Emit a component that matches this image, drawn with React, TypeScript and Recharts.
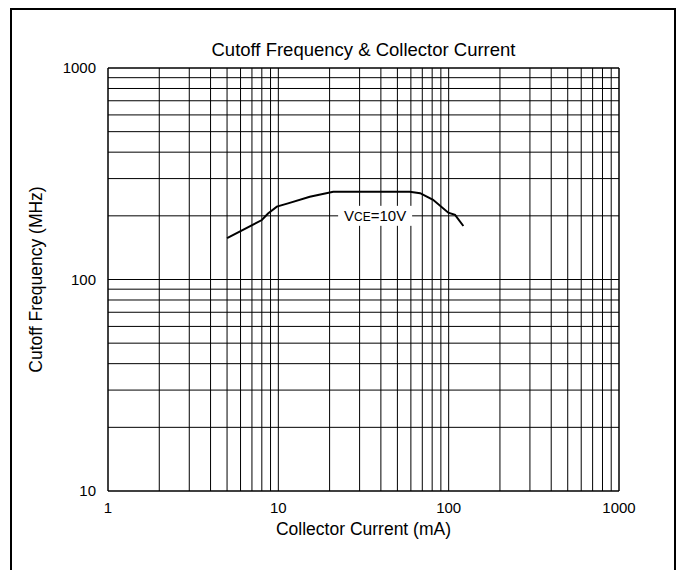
import React from 'react';
import { LineChart, Line, XAxis, YAxis, ReferenceLine, ReferenceDot, Label } from 'recharts';

const collectorCurrent = [5, 8, 8.7, 9.8, 11.4, 15.3, 21, 40, 59, 68, 81, 99.5, 109, 122];
const cutoffFreq = [157, 191, 205, 221, 229, 246, 260, 260, 260, 256, 238, 207, 202, 179];
const xTicks = [1, 10, 100, 1000];
const yTicks = [10, 100, 1000];
const xGrid = [1, 2, 3, 4, 5, 6, 7, 8, 9, 10, 20, 30, 40, 50, 60, 70, 80, 90, 100, 200, 300, 400, 500, 600, 700, 800, 900, 1000];
const yGrid = [10, 20, 30, 40, 50, 60, 70, 80, 90, 100, 200, 300, 400, 500, 600, 700, 800, 900, 1000];
const curveLabel = { x: 37, y: 200 };

const data = collectorCurrent.map((c, i) => ({ ic: c, ft: cutoffFreq[i] }));

const FONT = '"Liberation Sans", Arial, sans-serif';

const LabelShape = (props: any) => {
  const { cx, cy } = props;
  return (
    <g>
      <rect x={cx - 37} y={cy - 10} width={74} height={20} fill="#fff" />
      <text x={cx} y={cy} dy="0.36em" textAnchor="middle" fontFamily={FONT} fontSize={15} fill="#000">
        <tspan>V</tspan>
        <tspan fontSize={12}>CE</tspan>
        <tspan>=10V</tspan>
      </text>
    </g>
  );
};

export default function App() {
  return (
    <div style={{ position: 'absolute', left: 0, top: 0, width: 682, height: 570, background: '#fff', overflow: 'hidden' }}>
      <div style={{ position: 'absolute', left: 10, top: 8, width: 662, height: 600, border: '2px solid #000', boxSizing: 'content-box' }} />
      <div style={{ position: 'absolute', left: 108, top: 40, width: 511, textAlign: 'center', fontFamily: FONT, fontSize: 18.5, lineHeight: '20px', color: '#000' }}>
        Cutoff Frequency &amp; Collector Current
      </div>
      <div style={{ position: 'absolute', left: 0, top: 0 }}>
        <LineChart width={682} height={570} data={data} margin={{ top: 68, right: 63, bottom: 49, left: 68 }}>
          <XAxis
            dataKey="ic"
            type="number"
            scale="log"
            domain={[1, 1000]}
            ticks={xTicks}
            allowDataOverflow
            height={30}
            tickLine={false}
            axisLine={false}
            tickSize={0}
            tickMargin={11}
            tick={{ fontFamily: FONT, fontSize: 15, fill: '#000' }}
          >
            <Label value="Collector Current (mA)" position="bottom" offset={2} style={{ fontFamily: FONT, fontSize: 17.5, fill: '#000' }} />
          </XAxis>
          <YAxis
            type="number"
            scale="log"
            domain={[10, 1000]}
            ticks={yTicks}
            allowDataOverflow
            width={40}
            tickLine={false}
            axisLine={false}
            tickSize={0}
            tickMargin={12}
            tick={{ fontFamily: FONT, fontSize: 15, fill: '#000' }}
          >
            <Label value="Cutoff Frequency (MHz)" angle={-90} position="left" offset={32} style={{ fontFamily: FONT, fontSize: 17.5, fill: '#000', textAnchor: 'middle' }} />
          </YAxis>
          {xGrid.map((v) => (
            <ReferenceLine key={'x' + v} x={v} stroke="#000" strokeWidth={v === 1 || v === 1000 ? 1.5 : 1} />
          ))}
          {yGrid.map((v) => (
            <ReferenceLine key={'y' + v} y={v} stroke="#000" strokeWidth={v === 10 || v === 1000 ? 1.5 : 1} />
          ))}
          <Line dataKey="ft" type="linear" stroke="#000" strokeWidth={2} dot={false} isAnimationActive={false} />
          <ReferenceDot x={curveLabel.x} y={curveLabel.y} r={0} shape={LabelShape} />
        </LineChart>
      </div>
    </div>
  );
}
